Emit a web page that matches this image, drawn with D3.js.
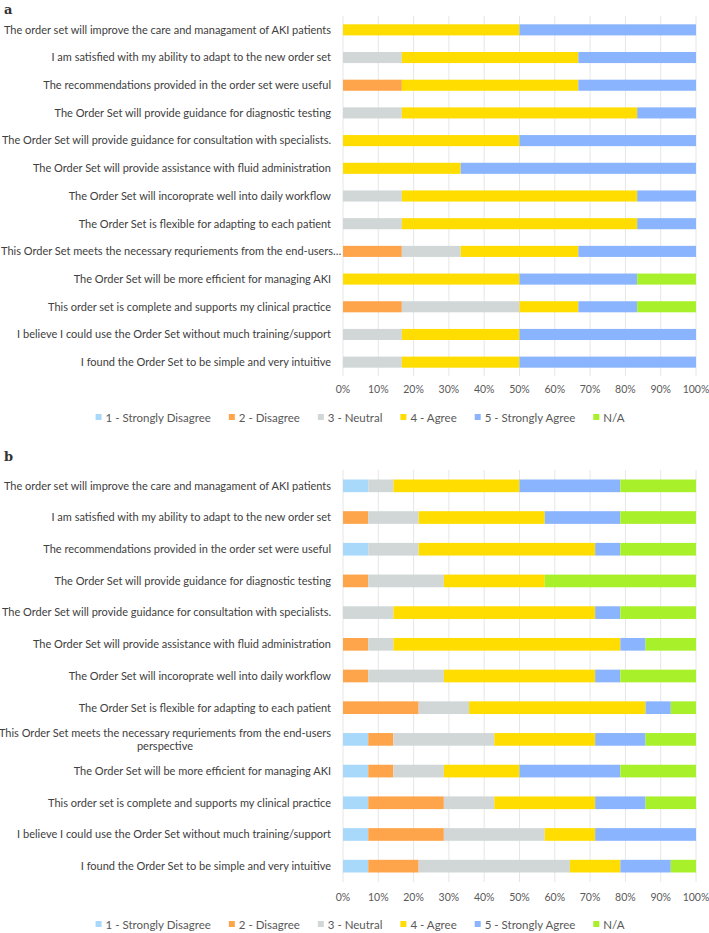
<!DOCTYPE html>
<html>
<head>
<meta charset="utf-8">
<script src="https://cdn.jsdelivr.net/npm/d3@7"></script>
<style>
  body { margin: 0; background: #fff; }
  svg text { font-family: Lato, "Open Sans", sans-serif; }
</style>
</head>
<body>
<svg id="chart" width="709" height="933"></svg>
<script>
// survey questions, top to bottom
var questions = [
  "The order set will improve the care and managament of AKI patients",
  "I am satisfied with my ability to adapt to the new order set",
  "The recommendations provided in the order set were useful",
  "The Order Set will provide guidance for diagnostic testing",
  "The Order Set will provide guidance for consultation with specialists.",
  "The Order Set will provide assistance with fluid administration",
  "The Order Set will incoroprate well into daily workflow",
  "The Order Set is flexible for adapting to each patient",
  "This Order Set meets the necessary requriements from the end-users perspective",
  "The Order Set will be more efficient for managing AKI",
  "This order set is complete and supports my clinical practice",
  "I believe I could use the Order Set without much training/support",
  "I found the Order Set to be simple and very intuitive"
];

var levels = ["1 - Strongly Disagree", "2 - Disagree", "3 - Neutral", "4 - Agree", "5 - Strongly Agree", "N/A"];
var colors = ["#a8d9fb", "#fea54b", "#d1d7d7", "#ffdd00", "#8ab4fd", "#a8f02a"];
var ticks = [0, 0.1, 0.2, 0.3, 0.4, 0.5, 0.6, 0.7, 0.8, 0.9, 1];

// response counts per question: [SD, D, N, A, SA, N/A]
var countsA = [
  [0, 0, 0, 3, 3, 0],
  [0, 0, 1, 3, 2, 0],
  [0, 1, 0, 3, 2, 0],
  [0, 0, 1, 4, 1, 0],
  [0, 0, 0, 3, 3, 0],
  [0, 0, 0, 2, 4, 0],
  [0, 0, 1, 4, 1, 0],
  [0, 0, 1, 4, 1, 0],
  [0, 1, 1, 2, 2, 0],
  [0, 0, 0, 3, 2, 1],
  [0, 1, 2, 1, 1, 1],
  [0, 0, 1, 2, 3, 0],
  [0, 0, 1, 2, 3, 0]
];
var countsB = [
  [1, 0, 1, 5, 4, 3],
  [0, 1, 2, 5, 3, 3],
  [1, 0, 2, 7, 1, 3],
  [0, 1, 3, 4, 0, 6],
  [0, 0, 2, 8, 1, 3],
  [0, 1, 1, 9, 1, 2],
  [0, 1, 3, 6, 1, 3],
  [0, 3, 2, 7, 1, 1],
  [1, 1, 4, 4, 2, 2],
  [1, 1, 2, 3, 4, 3],
  [1, 3, 2, 4, 2, 2],
  [1, 3, 4, 2, 4, 0],
  [1, 2, 6, 2, 2, 1]
];

var svg = d3.select("#chart");
var x = d3.scaleLinear().domain([0, 1]).range([343, 696]);
var labelRight = 331,
  labelMax = 338,
  truncMax = 341;

function toRows(counts){
  return counts.map(function(c, i){
    var row = { q: questions[i] };
    levels.forEach(function(l, j){ row[l] = c[j]; });
    return row;
  });
}

function drawPanel(counts, opts){
  var g = svg.append("g");
  var y = d3.scaleBand()
    .domain(questions)
    .range([opts.top, opts.bottom])
    .paddingInner(0.6)
    .paddingOuter(0.3);

  // gridlines
  g.selectAll("line.grid")
    .data(ticks)
    .enter().append("line")
    .attr("x1", function(d){ return x(d); })
    .attr("x2", function(d){ return x(d); })
    .attr("y1", opts.top)
    .attr("y2", opts.bottom)
    .attr("stroke", "#e6e6e6")
    .attr("stroke-width", 1);

  var series = d3.stack().keys(levels).offset(d3.stackOffsetExpand)(toRows(counts));
  g.selectAll("g.series")
    .data(series)
    .enter().append("g")
    .attr("fill", function(d, i){ return colors[i]; })
    .selectAll("rect")
    .data(function(d){ return d; })
    .enter().append("rect")
    .attr("x", function(d){ return x(d[0]); })
    .attr("width", function(d){ return x(d[1]) - x(d[0]); })
    .attr("y", function(d){ return y(d.data.q); })
    .attr("height", y.bandwidth());

  // x tick labels
  g.selectAll("text.tick")
    .data(ticks)
    .enter().append("text")
    .attr("x", function(d){ return x(d); })
    .attr("y", opts.axisY)
    .attr("text-anchor", "middle")
    .attr("font-size", 10.5)
    .attr("fill", "#595959")
    .text(d3.format(".0%"));

  // category labels
  questions.forEach(function(q){
    var cy = y(q) + y.bandwidth() / 2;
    var t = g.append("text")
      .attr("x", labelRight)
      .attr("y", cy)
      .attr("dy", "0.35em")
      .attr("text-anchor", "end")
      .attr("font-size", opts.fontSize)
      .attr("fill", "#404040")
      .text(q);
    if (t.node().getComputedTextLength() > labelMax){
      if (opts.wrap){
        var words = q.split(" "), line = [], lines = [];
        words.forEach(function(w){
          t.text(line.concat([w]).join(" "));
          if (t.node().getComputedTextLength() > labelMax && line.length){
            lines.push(line.join(" "));
            line = [w];
          } else {
            line.push(w);
          }
        });
        lines.push(line.join(" "));
        t.text(null).attr("dy", null).attr("y", cy - (lines.length - 1) * 6.5 + 3.8);
        lines.forEach(function(l, i){
          t.append("tspan").attr("x", labelRight).attr("dy", i ? 13 : 0).text(l);
        });
        // center wrapped lines under the first line
        var first = t.select("tspan").node().getComputedTextLength();
        t.selectAll("tspan").each(function(d, i){
          if (i > 0){
            var len = this.getComputedTextLength();
            d3.select(this).attr("x", labelRight - (first - len) / 2);
          }
        });
      } else {
        // truncated labels fill the whole label area, starting at the left edge
        t.attr("text-anchor", "start").attr("x", 1);
        var s = q;
        while (s.length && t.node().getComputedTextLength() > truncMax){
          s = s.slice(0, -1);
          t.text(s.trim() + "…");
        }
      }
    }
  });

  // panel letter
  g.append("text")
    .attr("x", 4)
    .attr("y", opts.letterY)
    .style("font-family", "'DejaVu Serif', serif")
    .attr("font-weight", "bold")
    .attr("font-size", 13)
    .attr("fill", "#333")
    .text(opts.letter);

  // legend
  var lg = g.append("g");
  var lx = 0;
  levels.forEach(function(l, i){
    lg.append("rect")
      .attr("x", lx)
      .attr("y", opts.legendY - 4)
      .attr("width", 6)
      .attr("height", 6)
      .attr("fill", colors[i]);
    var t = lg.append("text")
      .attr("x", lx + 10)
      .attr("y", opts.legendY)
      .attr("dy", "0.35em")
      .attr("font-size", 11.5)
      .attr("fill", "#595959")
      .text(l);
    lx += 10 + t.node().getComputedTextLength() + 18;
  });
  var legendW = lx - 18;
  lg.attr("transform", "translate(" + (360 - legendW / 2) + ",0)");
}

drawPanel(countsA, { top: 16, bottom: 376, axisY: 393, legendY: 418, letter: "a", letterY: 14, fontSize: 11, wrap: false });
drawPanel(countsB, { top: 470, bottom: 882, axisY: 901, legendY: 925, letter: "b", letterY: 461, fontSize: 11, wrap: true });
</script>
</body>
</html>
